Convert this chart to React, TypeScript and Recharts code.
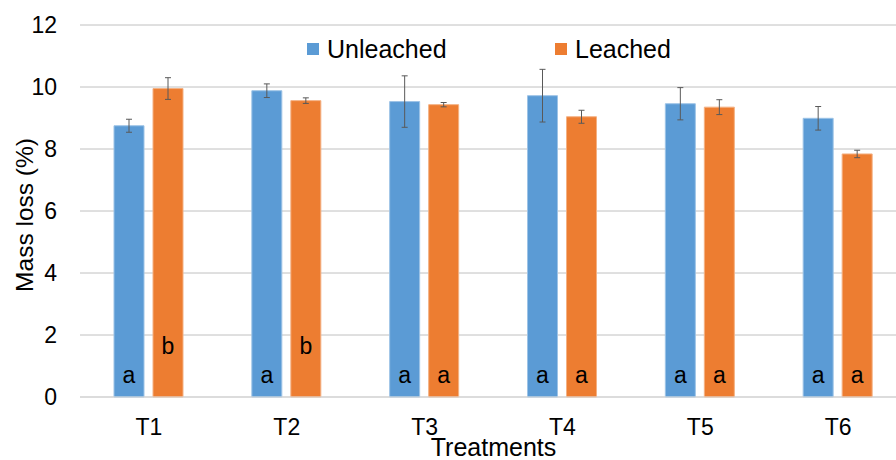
import React from 'react'
import {
  BarChart,
  Bar,
  XAxis,
  YAxis,
  CartesianGrid,
  ErrorBar,
  LabelList,
  Legend,
} from 'recharts'

const treatments = ['T1', 'T2', 'T3', 'T4', 'T5', 'T6']
const unleached = [8.75, 9.88, 9.53, 9.72, 9.46, 8.99]
const unleachedErr = [0.21, 0.22, 0.83, 0.85, 0.52, 0.38]
const leached = [9.95, 9.56, 9.43, 9.04, 9.35, 7.84]
const leachedErr = [0.35, 0.09, 0.07, 0.21, 0.24, 0.12]
const unleachedLetters = ['a', 'a', 'a', 'a', 'a', 'a']
const leachedLetters = ['b', 'b', 'a', 'a', 'a', 'a']
const yTicks = [0, 2, 4, 6, 8, 10, 12]

const BLUE = '#5b9bd5'
const ORANGE = '#ed7d31'
const FONT = '"Liberation Sans", Arial, sans-serif'

const data = treatments.map((t, i) => ({
  name: t,
  unleached: unleached[i],
  unleachedErr: unleachedErr[i],
  unleachedLetter: unleachedLetters[i],
  leached: leached[i],
  leachedErr: leachedErr[i],
  leachedLetter: leachedLetters[i],
}))

const series = [
  { name: 'Unleached', color: BLUE },
  { name: 'Leached', color: ORANGE },
]

// significance letter sitting near the base of each bar
function Letter(props: any) {
  const { x, y, width, height, value } = props
  const base = Number(y) + Number(height)
  const lift = value === 'b' ? 43 : 14
  return (
    <text
      x={Number(x) + Number(width) / 2}
      y={base - lift}
      textAnchor="middle"
      fontSize={23}
      fontFamily={FONT}
      fill="#000"
    >
      {value}
    </text>
  )
}

function LegendBox() {
  return (
    <div style={{ display: 'flex', alignItems: 'center', fontFamily: FONT, fontSize: 25, lineHeight: '26px' }}>
      {series.map((s, i) => (
        <div key={s.name} style={{ display: 'flex', alignItems: 'center', width: i === 0 ? 248 : 'auto' }}>
          <span style={{ display: 'inline-block', width: 12, height: 12, background: s.color, marginRight: 8 }} />
          <span style={{ color: '#000' }}>{s.name}</span>
        </div>
      ))}
    </div>
  )
}

function YTitle(props: any) {
  const vb = props.viewBox || {}
  const cy = vb.y + vb.height / 2 + 4
  return (
    <text
      x={33}
      y={cy}
      transform={`rotate(-90, 33, ${cy})`}
      textAnchor="middle"
      fontSize={24.5}
      fontFamily={FONT}
      fill="#000"
    >
      Mass loss (%)
    </text>
  )
}

export default function App() {
  return (
    <div
      style={{
        position: 'fixed',
        top: 0,
        left: 0,
        width: 896,
        height: 460,
        overflow: 'hidden',
        background: '#fff',
      }}
    >
      <BarChart
        width={910}
        height={460}
        data={data}
        margin={{ top: 25, right: 3, bottom: 0, left: 0 }}
        barSize={30}
        barGap={9}
      >
        <CartesianGrid vertical={false} stroke="#c0c0c0" />
        <XAxis
          dataKey="name"
          height={63}
          tickLine={false}
          tickSize={0}
          tickMargin={22}
          axisLine={{ stroke: '#d9d9d9' }}
          tick={{ fill: '#000', fontSize: 23, fontFamily: FONT }}
          label={{
            value: 'Treatments',
            position: 'insideBottom',
            offset: 4,
            fill: '#000',
            fontSize: 25,
            fontFamily: FONT,
          }}
        />
        <YAxis
          width={80}
          domain={[0, 12]}
          ticks={yTicks}
          interval={0}
          tickLine={false}
          axisLine={false}
          tickSize={0}
          tickMargin={23}
          tick={{ fill: '#000', fontSize: 23, fontFamily: FONT }}
          label={<YTitle />}
        />
        <Legend
          layout="horizontal"
          verticalAlign="middle"
          align="center"
          content={<LegendBox />}
          wrapperStyle={{ top: 36, left: 307, width: 'auto', height: 26 }}
        />
        <Bar dataKey="unleached" name="Unleached" fill={BLUE} stroke="#9dc3e6" strokeWidth={1} isAnimationActive={false}>
          <ErrorBar dataKey="unleachedErr" width={3} stroke="#595959" strokeWidth={1} direction="y" />
          <LabelList dataKey="unleachedLetter" content={<Letter />} />
        </Bar>
        <Bar dataKey="leached" name="Leached" fill={ORANGE} stroke="#f4b183" strokeWidth={1} isAnimationActive={false}>
          <ErrorBar dataKey="leachedErr" width={3} stroke="#595959" strokeWidth={1} direction="y" />
          <LabelList dataKey="leachedLetter" content={<Letter />} />
        </Bar>
      </BarChart>
    </div>
  )
}
